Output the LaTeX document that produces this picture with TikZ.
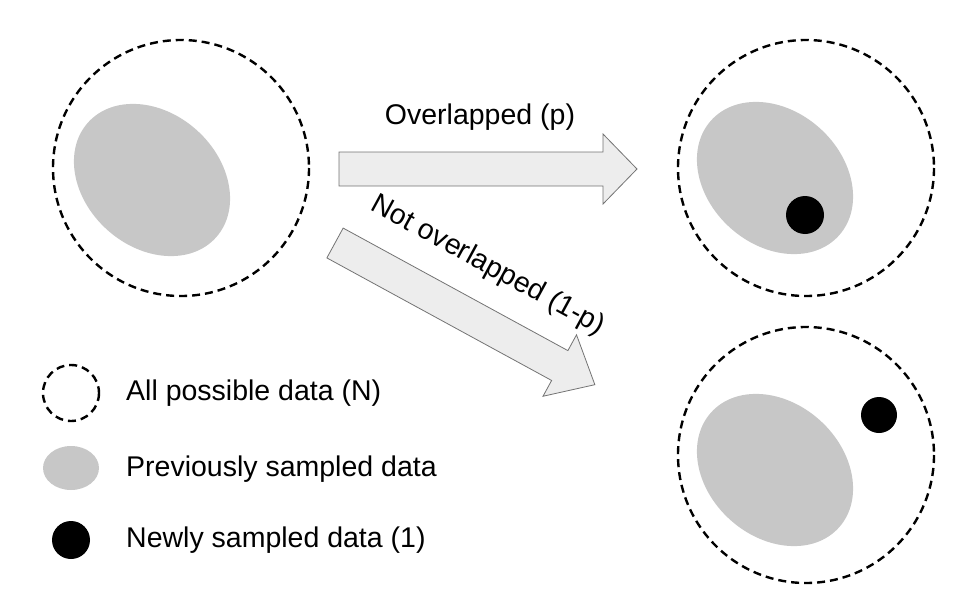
\documentclass[tikz,border=0pt]{standalone}
\usepackage{fontspec}
\setmainfont{Liberation Sans}
\begin{document}
\begin{tikzpicture}[x=1pt,y=-1pt,
  world/.style={draw=black,line width=2.4pt,dash pattern=on 8pt off 5pt},
  prev/.style={fill=black!22},
  newd/.style={fill=black},
  barrow/.style={fill=black!7,draw=black!55,line width=0.8pt},
  lbl/.style={font=\fontsize{28.5}{32}\selectfont,inner sep=0pt}]
\useasboundingbox (0,0) rectangle (964,602);
% main circles
\draw[world] (181,168) circle (128);
\fill[prev,rotate around={-42:(152,180)}] (152,180) ellipse (86 and 67);
\draw[world] (806,168) circle (128);
\fill[prev,rotate around={-42:(775,178)}] (775,178) ellipse (86 and 67);
\fill[newd] (805,215) circle (19);
\draw[world] (806,455) circle (128);
\fill[prev,rotate around={-42:(775,470)}] (775,470) ellipse (86 and 67);
\fill[newd] (879,415) circle (18);
% arrows
\begin{scope}[shift={(339,169)}]
\draw[barrow] (0,-17) -- (264,-17) -- (264,-35) -- (298,0) -- (264,35) -- (264,17) -- (0,17) -- cycle;
\end{scope}
\begin{scope}[shift={(335,243)},rotate=-28.6]
\draw[barrow] (0,-17) -- (256,-17) -- (256,-35) -- (296,0) -- (256,35) -- (256,17) -- (0,17) -- cycle;
\end{scope}
\node[lbl] (ov) at (480,117) {Overlapped (p)};
\node[lbl,rotate=-28.6] (nov) at (488,266) {Not overlapped (1-p)};
% legend
\draw[world] (71,393) circle (28);
\fill[prev] (71,468) ellipse (28 and 22);
\fill[newd] (71,540) circle (19);
\node[lbl,anchor=west] (l1) at (126,393) {All possible data (N)};
\node[lbl,anchor=west] (l2) at (126,469) {Previously sampled data};
\node[lbl,anchor=west] (l3) at (126,540) {Newly sampled data (1)};
\end{tikzpicture}
\end{document}
